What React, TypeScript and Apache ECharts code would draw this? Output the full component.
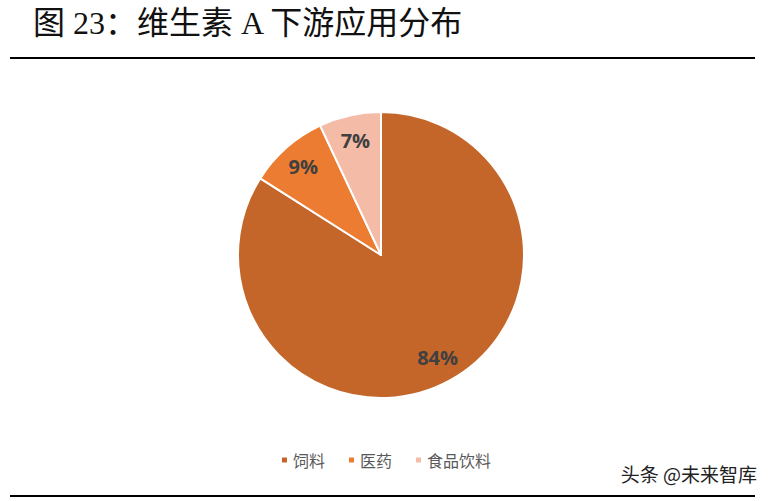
import { useEffect, useRef } from "react"
import * as echarts from "echarts"

// 下游应用及占比（%）
const categories = ["饲料", "医药", "食品饮料"]
const shares = [84, 9, 7]
const colors = ["#C4662A", "#EB7C31", "#F4BBA6"]

const App = () => {
  const chartRef = useRef<HTMLDivElement>(null)

  useEffect(() => {
    if (!chartRef.current) return
    const chart = echarts.init(chartRef.current, undefined, { renderer: "svg" })

    const data = categories.map((name, i) => ({
      name,
      value: shares[i],
      itemStyle: { color: colors[i] },
    }))

    chart.setOption({
      animation: false,
      backgroundColor: "#fff",
      title: {
        text: "图 23：维生素 A 下游应用分布",
        left: 28,
        top: 2,
        textStyle: {
          fontFamily: "'Liberation Serif', 'Noto Sans CJK SC'",
          fontSize: 32,
          fontWeight: "normal",
          color: "#111",
        },
      },
      legend: {
        bottom: 28,
        left: "center",
        icon: "rect",
        itemWidth: 7,
        itemHeight: 7,
        itemGap: 22,
        data: categories,
        textStyle: {
          fontFamily: "'Noto Sans CJK SC'",
          fontSize: 16,
          color: "#595959",
        },
      },
      graphic: [
        { type: "line", shape: { x1: 10, y1: 58, x2: 755, y2: 58 }, style: { stroke: "#000", lineWidth: 2 } },
        { type: "line", shape: { x1: 10, y1: 496, x2: 755, y2: 496 }, style: { stroke: "#000", lineWidth: 2 } },
        {
          type: "text",
          right: 14,
          top: 464,
          style: {
            text: "头条 @未来智库",
            font: "19px 'Noto Sans CJK SC'",
            fill: "#222",
          },
        },
      ],
      series: [
        {
          type: "pie",
          center: [381, 255],
          radius: 143,
          startAngle: 90,
          clockwise: true,
          data,
          itemStyle: { borderColor: "#fff", borderWidth: 2 },
          label: { show: false },
          labelLine: { show: false },
          emphasis: { disabled: true },
        },
        {
          // 透明环，仅用于把百分比标签放在约 0.8 半径处
          type: "pie",
          center: [381, 255],
          radius: [86, 143],
          startAngle: 90,
          clockwise: true,
          silent: true,
          data: categories.map((name, i) => ({ name, value: shares[i] })),
          itemStyle: { color: "rgba(0,0,0,0)" },
          label: {
            show: true,
            position: "inside",
            formatter: "{c}%",
            fontFamily: "'Open Sans', 'Noto Sans'",
            fontWeight: "bold",
            fontSize: 20,
            color: "#404040",
          },
          labelLine: { show: false },
          emphasis: { disabled: true },
        },
      ],
    })

    return () => {
      chart.dispose()
    }
  }, [])

  return (
    <div
      ref={chartRef}
      style={{ position: "fixed", left: 0, top: 0, width: 771, height: 501 }}
    />
  )
}

export default App
